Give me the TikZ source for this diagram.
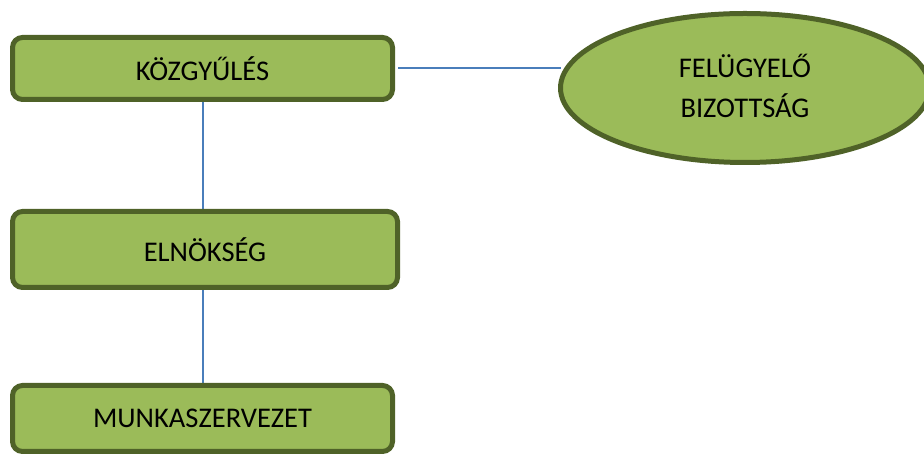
\documentclass[tikz,border=0pt]{standalone}
\usepackage{fontspec}
\setmainfont{Carlito}
\usetikzlibrary{shapes.geometric,backgrounds}
\definecolor{boxfill}{HTML}{9BBB59}
\definecolor{boxline}{HTML}{4F6228}
\definecolor{conn}{HTML}{4A7EBB}
\tikzset{
  orgbox/.style={draw=boxline, line width=5pt, fill=boxfill, rounded corners=10pt,
    inner sep=0pt, outer sep=0pt, font=\fontsize{28.5}{40}\selectfont},
  orgoval/.style={ellipse, draw=boxline, line width=5pt, fill=boxfill,
    inner sep=0pt, outer sep=0pt, align=center, font=\fontsize{28.5}{40}\selectfont},
  link/.style={draw=conn, line width=2pt}
}
\begin{document}
\begin{tikzpicture}[x=1pt,y=1pt]
\useasboundingbox (0,0) rectangle (924,454);
\begin{scope}
\clip (0,0) rectangle (924,454);
\node[orgbox, minimum width=380pt, minimum height=62pt] (kgy) at (202.5,385.5) {KÖZGYŰLÉS};
\node[orgbox, minimum width=385pt, minimum height=76pt] (eln) at (205,204.5) {ELNÖKSÉG};
\node[orgbox, minimum width=380pt, minimum height=66pt] (msz) at (202.5,35.5) {MUNKASZERVEZET};
\node[orgoval, minimum width=369pt, minimum height=149pt] (fb) at (745,366)
  {FELÜGYELŐ\\BIZOTTSÁG\rule[-5pt]{0pt}{5pt}};
\coordinate (hs) at ([xshift=5.5pt]kgy.east);
\begin{scope}[on background layer]
\draw[link] (hs) -- (hs -| fb.west);
\draw[link] (kgy.south) -- (kgy.south |- eln.north);
\draw[link] (eln.south -| kgy.south) -- (kgy.south |- msz.north);
\end{scope}
\end{scope}
\end{tikzpicture}
\end{document}
